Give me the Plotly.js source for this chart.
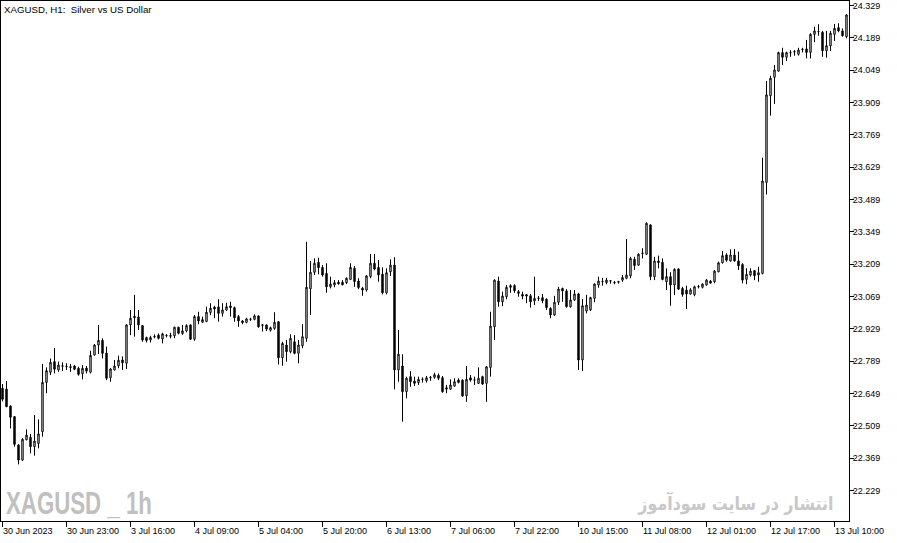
<!DOCTYPE html>
<html>
<head>
<meta charset="utf-8">
<script src="https://cdn.plot.ly/plotly-3.0.1.min.js"></script>
<style>
html,body{margin:0;padding:0;background:#fff;}
#chart{width:897px;height:543px;}
</style>
</head>
<body>
<div id="chart"></div>
<script>
// Hourly XAGUSD bars, 30 Jun 2023 07:00 onward (bar index = trading hour)
const openP = [22.672,22.668,22.595,22.549,22.426,22.361,22.449,22.459,22.419,22.433,
22.484,22.697,22.741,22.787,22.751,22.767,22.767,22.765,22.768,22.758,
22.735,22.759,22.741,22.816,22.859,22.879,22.824,22.717,22.751,22.769,
22.794,22.780,22.946,22.983,22.980,22.943,22.891,22.881,22.894,22.902,
22.885,22.899,22.900,22.899,22.936,22.909,22.920,22.946,22.884,22.982,
22.958,22.961,23.000,23.023,23.024,22.996,23.011,23.028,23.021,22.982,
22.963,22.957,22.970,22.970,22.985,22.944,22.946,22.923,22.931,22.960,
22.804,22.859,22.830,22.873,22.823,22.856,22.888,23.102,23.174,23.217,
23.195,23.169,23.111,23.119,23.131,23.131,23.129,23.143,23.191,23.136,
23.105,23.097,23.155,23.213,23.195,23.166,23.085,23.176,23.205,22.751,
22.768,22.657,22.722,22.703,22.696,22.710,22.704,22.717,22.719,22.728,
22.717,22.674,22.668,22.681,22.707,22.707,22.639,22.717,22.707,22.693,
22.722,22.693,22.762,22.938,23.136,23.046,23.068,23.116,23.116,23.090,
23.078,23.077,23.072,23.050,23.061,23.064,23.057,23.018,22.989,23.044,
23.104,23.093,23.025,23.054,23.080,22.794,23.006,23.011,23.061,23.119,
23.133,23.129,23.137,23.130,23.131,23.140,23.148,23.158,23.230,23.205,
23.255,23.252,23.379,23.155,23.223,23.217,23.133,23.155,23.119,23.188,
23.104,23.097,23.080,23.077,23.111,23.109,23.119,23.136,23.133,23.176,
23.215,23.249,23.223,23.249,23.223,23.208,23.143,23.162,23.181,23.162,
23.169,23.563,23.938,24.018,24.045,24.125,24.105,24.124,24.128,24.118,
24.138,24.141,24.126,24.204,24.216,24.213,24.133,24.154,24.204,24.233,
24.219,24.194];
const highP = [22.690,22.703,22.597,22.551,22.430,22.455,22.494,22.474,22.556,22.537,
22.777,22.762,22.801,22.846,22.787,22.784,22.780,22.777,22.772,22.765,
22.772,22.768,22.834,22.863,22.946,22.888,22.852,22.760,22.794,22.813,
22.810,22.949,23.010,23.076,23.011,22.946,22.895,22.899,22.905,22.909,
22.912,22.906,22.912,22.938,22.938,22.946,22.949,22.948,22.989,23.003,
22.982,23.025,23.040,23.029,23.057,23.040,23.042,23.046,23.025,22.989,
22.967,22.977,22.977,22.992,22.987,22.949,22.948,22.938,23.001,22.962,
22.873,22.881,22.905,22.902,22.881,22.949,23.306,23.223,23.234,23.237,
23.205,23.213,23.155,23.140,23.140,23.140,23.152,23.213,23.201,23.148,
23.111,23.162,23.253,23.253,23.227,23.195,23.191,23.230,23.239,22.924,
22.819,22.722,22.746,22.722,22.722,22.719,22.725,22.725,22.739,22.736,
22.725,22.686,22.710,22.715,22.715,22.710,22.768,22.729,22.722,22.762,
22.726,22.768,23.003,23.143,23.155,23.090,23.119,23.122,23.122,23.097,
23.090,23.080,23.080,23.155,23.071,23.080,23.061,23.022,23.072,23.111,
23.107,23.101,23.097,23.097,23.085,23.058,23.076,23.068,23.126,23.155,
23.150,23.150,23.140,23.136,23.137,23.162,23.318,23.241,23.241,23.256,
23.278,23.390,23.382,23.241,23.246,23.234,23.191,23.174,23.191,23.191,
23.111,23.116,23.105,23.116,23.119,23.126,23.145,23.140,23.184,23.220,
23.266,23.256,23.273,23.275,23.263,23.213,23.191,23.191,23.184,23.198,
23.670,24.002,24.025,24.071,24.129,24.146,24.129,24.136,24.136,24.146,
24.146,24.180,24.209,24.237,24.248,24.219,24.219,24.219,24.249,24.252,
24.230,24.292];
const lowP = [22.615,22.590,22.498,22.419,22.342,22.357,22.446,22.390,22.380,22.412,
22.462,22.650,22.729,22.736,22.743,22.746,22.751,22.743,22.750,22.726,
22.710,22.736,22.736,22.813,22.820,22.801,22.707,22.700,22.749,22.758,
22.751,22.755,22.902,22.895,22.924,22.873,22.870,22.870,22.888,22.883,
22.866,22.892,22.888,22.888,22.905,22.903,22.914,22.881,22.877,22.949,
22.954,22.958,22.988,22.975,22.960,22.982,23.006,22.982,22.960,22.938,
22.949,22.953,22.963,22.966,22.934,22.917,22.920,22.917,22.925,22.775,
22.769,22.787,22.823,22.819,22.780,22.845,22.873,22.989,23.162,23.165,
23.155,23.085,23.104,23.109,23.120,23.117,23.123,23.140,23.111,23.101,
23.072,23.090,23.148,23.182,23.133,23.078,23.078,23.158,22.667,22.700,
22.527,22.628,22.678,22.681,22.686,22.696,22.696,22.704,22.713,22.707,
22.652,22.650,22.664,22.678,22.693,22.635,22.613,22.700,22.686,22.690,
22.686,22.613,22.722,22.881,23.025,23.027,23.057,23.085,23.085,23.068,
23.057,23.040,23.021,23.032,23.050,23.040,23.011,22.975,22.985,23.032,
23.046,23.021,23.021,23.050,22.751,22.746,22.996,23.006,23.044,23.107,
23.116,23.122,23.125,23.122,23.125,23.133,23.144,23.148,23.184,23.202,
23.234,23.249,23.140,23.140,23.191,23.139,23.097,23.029,23.075,23.097,
23.068,23.015,23.077,23.070,23.104,23.104,23.116,23.125,23.126,23.174,
23.212,23.220,23.220,23.220,23.184,23.126,23.122,23.155,23.140,23.133,
23.165,23.511,23.852,23.903,24.042,24.071,24.089,24.107,24.112,24.112,
24.126,24.100,24.100,24.170,24.198,24.107,24.103,24.132,24.175,24.213,
24.194,24.187];
const closeP = [22.624,22.592,22.546,22.429,22.361,22.451,22.469,22.419,22.443,22.474,
22.697,22.748,22.784,22.754,22.772,22.769,22.766,22.762,22.754,22.732,
22.758,22.746,22.814,22.859,22.879,22.823,22.715,22.755,22.768,22.793,
22.782,22.946,22.975,22.977,22.946,22.881,22.879,22.891,22.896,22.888,
22.907,22.900,22.897,22.936,22.910,22.920,22.943,22.884,22.982,22.963,
22.969,23.001,23.018,23.015,22.996,23.011,23.025,23.021,22.977,22.963,
22.956,22.972,22.971,22.985,22.938,22.946,22.928,22.934,22.957,22.804,
22.866,22.830,22.888,22.823,22.859,22.895,23.109,23.174,23.213,23.194,
23.162,23.111,23.123,23.129,23.124,23.120,23.148,23.195,23.134,23.108,
23.097,23.158,23.213,23.188,23.162,23.085,23.172,23.205,22.751,22.819,
22.657,22.715,22.700,22.693,22.710,22.711,22.717,22.719,22.730,22.715,
22.657,22.668,22.686,22.700,22.697,22.638,22.710,22.707,22.708,22.715,
22.690,22.765,22.941,23.140,23.046,23.071,23.109,23.109,23.094,23.083,
23.071,23.071,23.046,23.061,23.062,23.051,23.021,22.989,23.044,23.101,
23.093,23.025,23.054,23.080,22.794,23.029,23.032,23.064,23.123,23.136,
23.134,23.140,23.136,23.129,23.133,23.151,23.162,23.234,23.203,23.252,
23.257,23.386,23.155,23.223,23.216,23.143,23.155,23.119,23.187,23.101,
23.078,23.080,23.098,23.111,23.112,23.123,23.140,23.127,23.179,23.215,
23.246,23.226,23.249,23.223,23.202,23.140,23.165,23.179,23.159,23.172,
23.569,23.942,24.014,24.050,24.125,24.105,24.125,24.125,24.129,24.136,
24.139,24.126,24.204,24.219,24.216,24.133,24.155,24.209,24.230,24.219,
24.198,24.288];

// Time-axis labels, one every 16 bars
const timeTickIndex = [0,16,32,48,64,80,96,112,128,144,160,176,192,208];
const timeTickText = ["30 Jun 2023","30 Jun 23:00","3 Jul 16:00","4 Jul 09:00","5 Jul 04:00",
  "5 Jul 20:00","6 Jul 13:00","7 Jul 06:00","7 Jul 22:00","10 Jul 15:00","11 Jul 08:00",
  "12 Jul 01:00","12 Jul 17:00","13 Jul 10:00"];

// Price-axis labels
const priceTicks = [22.229,22.369,22.509,22.649,22.789,22.929,23.069,23.209,23.349,23.489,
  23.629,23.769,23.909,24.049,24.189,24.329];

const chartTitle = "XAGUSD, H1:  Silver vs US Dollar";
const watermarkLeft = "XAGUSD _ 1h";
const watermarkRight = "انتشار در سایت سودآموز";

const barIndex = openP.map((_, i) => i);

const trace = {
  type: 'candlestick',
  x: barIndex,
  open: openP, high: highP, low: lowP, close: closeP,
  increasing: {line: {color: '#000000', width: 1}, fillcolor: '#ffffff'},
  decreasing: {line: {color: '#000000', width: 1}, fillcolor: '#000000'},
  whiskerwidth: 0,
  hoverinfo: 'none',
  showlegend: false
};

const fontFam = '"Liberation Sans", Arial, sans-serif';
const annotations = timeTickIndex.map((ix, k) => ({
  x: ix, xref: 'x', y: 0, yref: 'paper',
  xanchor: 'left', yanchor: 'top', yshift: -3, xshift: -2,
  text: timeTickText[k], showarrow: false,
  font: {family: fontFam, size: 9, color: '#000'}
}));
annotations.push({
  x: 0, xref: 'paper', y: 1, yref: 'paper', xanchor: 'left', yanchor: 'top',
  xshift: 1, yshift: -1, text: chartTitle, showarrow: false,
  font: {family: fontFam, size: 9.7, color: '#000'}
});
annotations.push({
  x: 0, xref: 'paper', y: 0, yref: 'paper', xanchor: 'left', yanchor: 'bottom',
  xshift: 3, yshift: -2, text: watermarkLeft, showarrow: false, align: 'left',
  font: {family: '"Liberation Sans", sans-serif', size: 31, color: '#c0c0c0', weight: 'bold'}
});
annotations.push({
  x: 0.8656, xref: 'paper', y: 0, yref: 'paper', xanchor: 'center', yanchor: 'bottom',
  yshift: 4, text: watermarkRight, showarrow: false,
  font: {family: '"DejaVu Sans", sans-serif', size: 19, color: '#c8c8c8', weight: 'bold'}
});

const layout = {
  width: 897, height: 543,
  margin: {l: 1, r: 48, t: 1, b: 22, pad: 0},
  paper_bgcolor: '#ffffff', plot_bgcolor: '#ffffff',
  boxgap: 0.5,
  showlegend: false,
  xaxis: {
    type: 'linear', range: [-0.375, 211.625],
    rangeslider: {visible: false},
    showgrid: false, zeroline: false,
    showline: true, mirror: true, linecolor: '#000', linewidth: 1,
    ticks: 'outside', ticklen: 5, tickcolor: '#000', tickwidth: 1,
    tickmode: 'array', tickvals: timeTickIndex, showticklabels: false,
    fixedrange: true
  },
  yaxis: {
    side: 'right', range: [22.097, 24.3485],
    showgrid: false, zeroline: false,
    showline: true, mirror: true, linecolor: '#000', linewidth: 1,
    ticks: 'outside', ticklen: 4, tickcolor: '#000', tickwidth: 1,
    tickmode: 'array', tickvals: priceTicks,
    ticktext: priceTicks.map(v => v.toFixed(3)),
    ticklabelstandoff: -3,
    tickfont: {family: fontFam, size: 9, color: '#000'},
    fixedrange: true
  },
  annotations: annotations
};

Plotly.newPlot('chart', [trace], layout, {staticPlot: true, displayModeBar: false}).then(() => {
  // condense the watermark texts horizontally to the reference's widths
  document.querySelectorAll('text.annotation-text').forEach(t => {
    let target = null;
    if (t.textContent === watermarkLeft) target = 146;
    else if (t.textContent === watermarkRight) target = 196;
    if (!target) return;
    const bb = t.getBBox();
    const s = target / bb.width;
    const ax = (t.textContent === watermarkLeft) ? bb.x : bb.x + bb.width / 2;
    t.setAttribute('transform', 'translate(' + ax + ',0) scale(' + s + ',1) translate(' + (-ax) + ',0)');
  });
});
</script>
</body>
</html>
